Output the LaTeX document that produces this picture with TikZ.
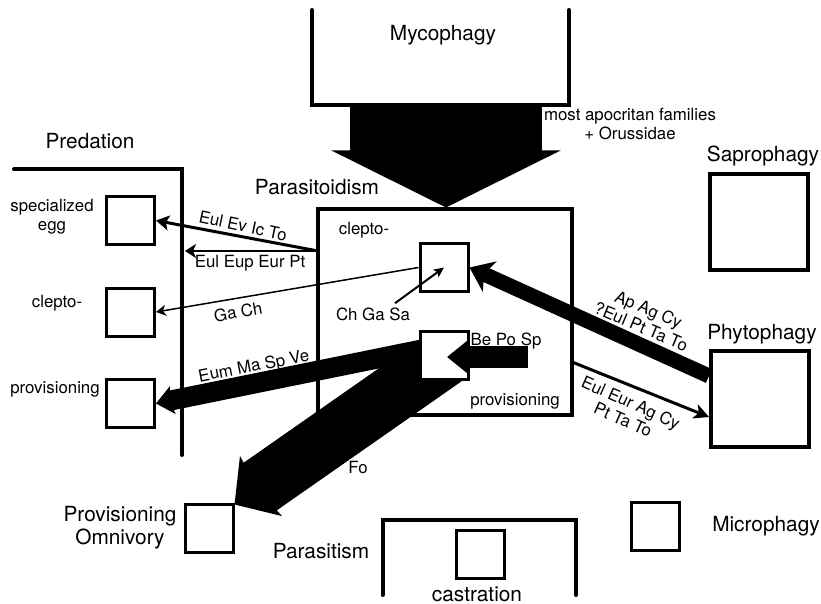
\documentclass[tikz,border=0pt]{standalone}
\usepackage{fontspec}
\setmainfont{TeX Gyre Heros}
\usetikzlibrary{arrows.meta,backgrounds}
\newcommand\titlef{\fontsize{20.9}{23}\selectfont}
\newcommand\labf{\fontsize{16.9}{19}\selectfont}
\tikzset{
  smallbox/.style={draw,line width=3bp,minimum width=48bp,minimum height=48bp,inner sep=0pt},
  bigbox/.style={draw,line width=4bp,minimum width=98bp,minimum height=96bp,inner sep=0pt},
  parabox/.style={draw,line width=4bp,minimum width=254bp,minimum height=205bp,inner sep=0pt},
  bracket/.style={line width=4bp,line cap=round},
  title/.style={font=\titlef,inner sep=0pt,anchor=base},
  lab/.style={font=\labf,inner sep=1bp},
}
\begin{document}
\begin{tikzpicture}[x=1bp,y=-1bp]
\useasboundingbox (0,0) rectangle (821,604);
\draw[bracket](312,10)--(312,105)--(569,105)--(569,10);
\draw[bracket](14,169.5)--(182,169.5)--(182,455);
\draw[bracket](382.5,595)--(382.5,519.5)--(576,519.5)--(576,595);

\node[smallbox] (spec) at (130.5,220.5) {};
\node[smallbox] (clpred) at (130.5,312) {};
\node[smallbox] (provpred) at (130.5,403.5) {};
\node[parabox] (para) at (444.5,312) {};
\node[smallbox] (clpara) at (444,267.5) {};
\node[smallbox,fill=white] (provpara) at (444,355) {};
\node[smallbox] (omni) at (209,528) {};
\node[smallbox] (castr) at (480,554) {};
\node[smallbox] (micro) at (655.5,526.5) {};
\node[bigbox] (sapro) at (759,222) {};
\node[bigbox] (phyto) at (760,399) {};

\node[title] (myctxt) at (443,41) {Mycophagy};
\node[title] (predtxt) at (90,149) {Predation};
\node[title] (paratxt) at (317,195) {Parasitoidism};
\node[title] (saprotxt) at (763,162) {Saprophagy};
\node[title] (phytotxt) at (762,339) {Phytophagy};
\node[title] (microtxt) at (766,531) {Microphagy};
\node[title] (parasittxt) at (321,558) {Parasitism};
\node[title] (castrtxt) at (477,601) {castration};
\node[font=\titlef,inner sep=0pt,align=center] (omnitxt) at (120,528) {Provisioning\\Omnivory};

\node[lab,align=center] (spectxt) at (52,217) {specialized\\egg};
\node[lab,anchor=base] (clpredtxt) at (57,307) {clepto-};
\node[lab,anchor=base] (provpredtxt) at (55,393) {provisioning};
\node[lab,anchor=base] (clparatxt) at (364,235) {clepto-};
\node[lab,anchor=base] (chgs) at (373,320) {Ch Ga Sa};
\node[lab,anchor=base] (bps) at (506,345) {Be Po Sp};
\node[lab,anchor=base] (provparatxt) at (515,405) {provisioning};
\node[lab,anchor=base] (fo) at (358,473) {Fo};
\node[lab,align=center] (apocr) at (630,124) {most apocritan families\\+ Orussidae};
\node[lab,rotate=-12] (evtxt) at (243,226) {Eul Ev Ic To};
\node[lab,anchor=base] (euptxt) at (250,267.5) {Eul Eup Eur Pt};
\node[lab,rotate=10] (gachtxt) at (238,312) {Ga Ch};
\node[lab,rotate=11] (eumtxt) at (254,367) {Eum Ma Sp Ve};
\node[lab,rotate=-23,align=center] (aptxt) at (645,318) {Ap Ag Cy\\?Eul Pt Ta To};
\node[lab,rotate=-24,align=center] (eurtxt) at (627,411) {Eul Eur Ag Cy\\Pt Ta To};

\coordinate (mycb) at (446,105);
\coordinate (pl) at (318,251);
\coordinate (predline) at (185,251);
\coordinate (pr) at (572,362);
\coordinate (bpsr) at (528,357);
\coordinate (bpsl) at (447,357);

\draw[line width=192bp,-{Triangle[length=57bp,width=227bp]}](mycb)--(mycb|-para.north);
\draw[line width=3bp,-{Stealth[length=13bp,width=15bp,inset=3bp]}](pl)--(spec.east);
\draw[line width=2bp,-{Stealth[length=11bp,width=14bp,inset=3bp]}](pl)--(predline);
\draw[line width=1.5bp,-{Stealth[length=10bp,width=11bp,inset=3bp]}](clpara.west)--(clpred.east);
\draw[line width=2bp,-{Stealth[length=10bp,width=9bp,inset=2bp]}]([xshift=22bp,yshift=3bp]chgs.north)--(clpara.center);
\draw[line width=15bp,-{Stealth[length=22bp,width=33bp,inset=6bp]}]([yshift=23bp]phyto.west)--(clpara.east);
\draw[line width=3bp,-{Stealth[length=15bp,width=15bp,inset=4bp]}](pr)--([yshift=-18bp]phyto.west);
\draw[line width=22bp,-{Triangle[length=22bp,width=34bp]}](bpsr)--(bpsl);
\begin{scope}[on background layer]
\draw[line width=20bp,-{Stealth[length=17bp,width=28bp,inset=3bp]}]([yshift=10bp]provpara.center)--(provpred.east);
\draw[line width=58bp,-{Stealth[length=32bp,width=72bp,inset=4bp]}]([xshift=1bp,yshift=-2.5bp]provpara.center)--([yshift=-2bp]omni.north east);
\end{scope}
\end{tikzpicture}
\end{document}
